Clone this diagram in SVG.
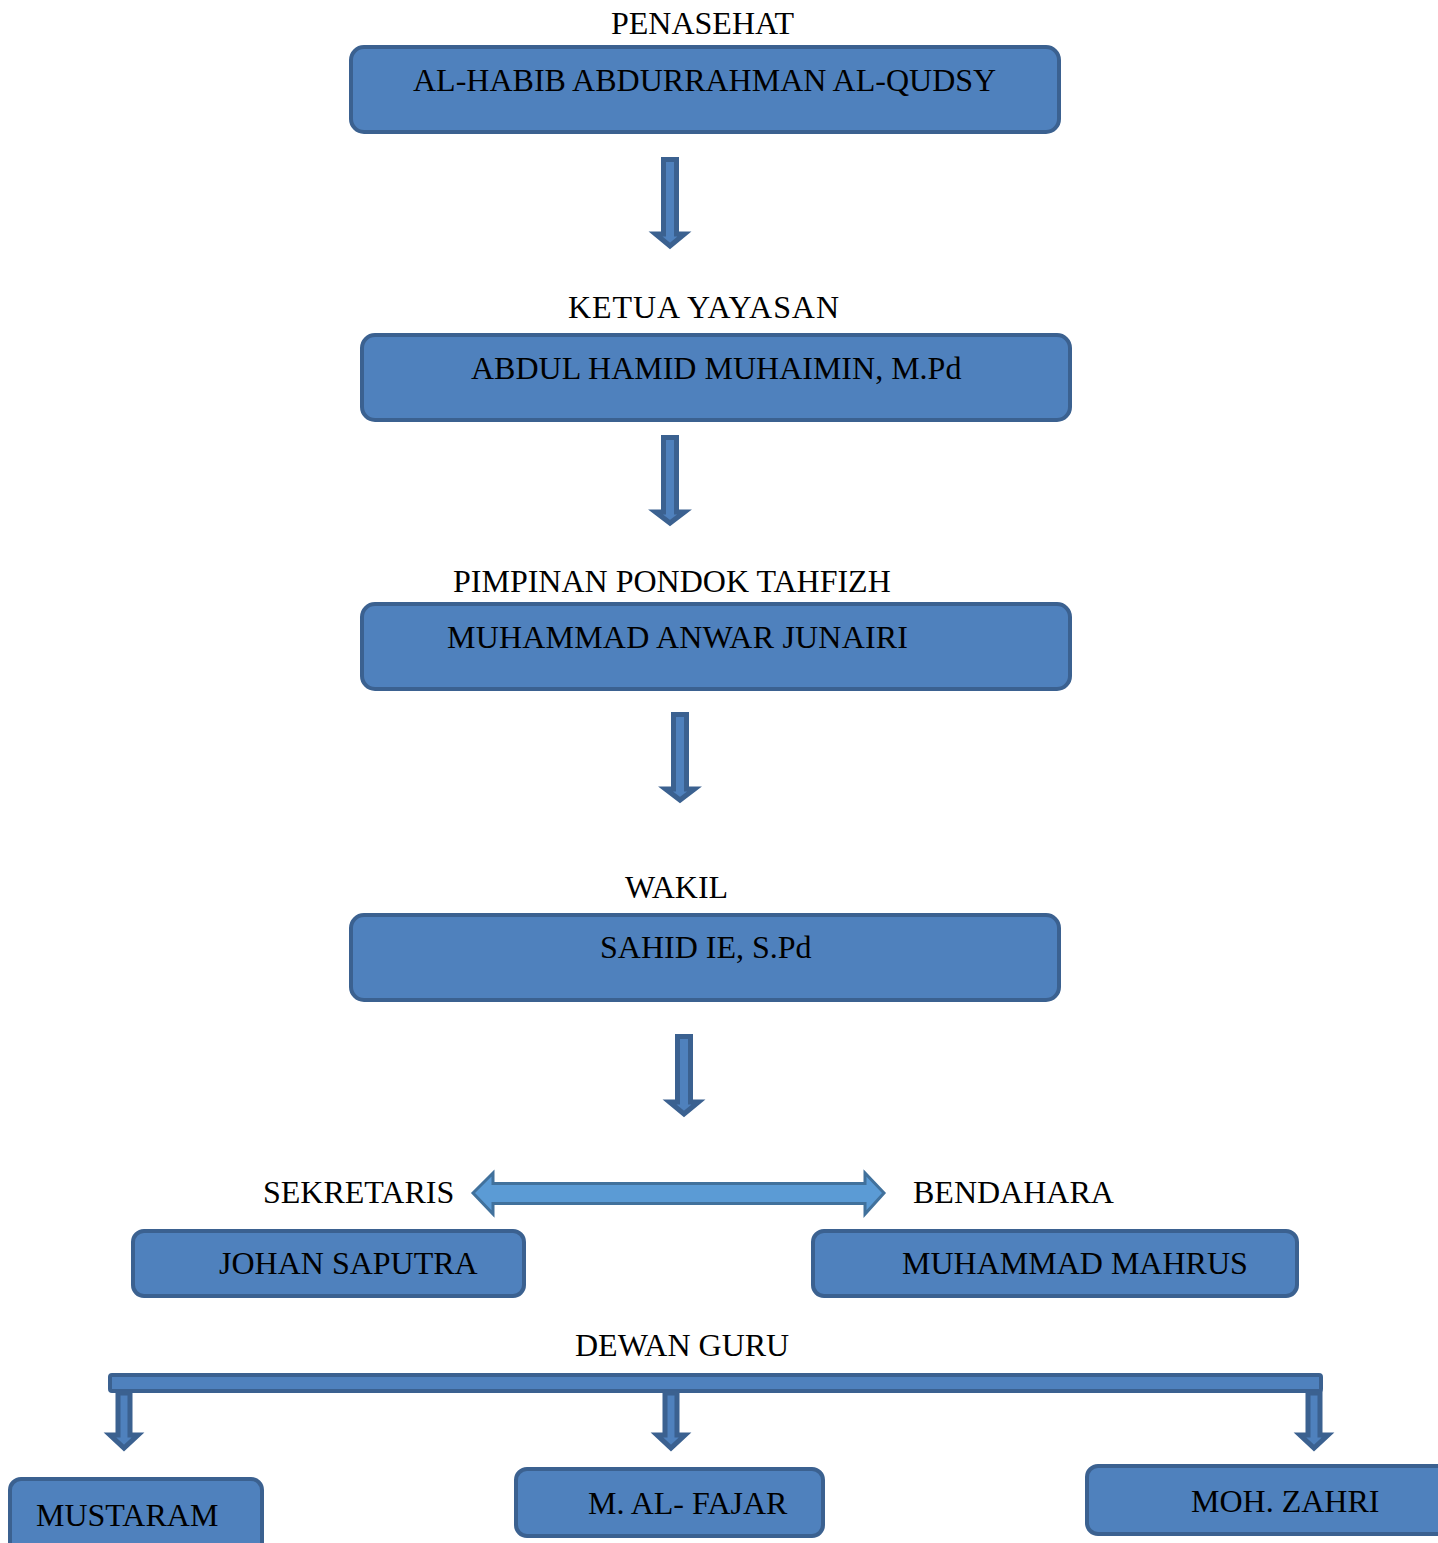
<svg xmlns="http://www.w3.org/2000/svg" width="1438" height="1543" viewBox="0 0 1438 1543">
<style>
.box{fill:#4f81bd;stroke:#3b6190;stroke-width:4}
.arr{fill:#4f81bd;stroke:#3b6190;stroke-width:5;stroke-linejoin:miter}
.dbl{fill:#5b9bd5;stroke:#41719c;stroke-width:3}
text{font-family:"Liberation Serif","Times New Roman",serif;font-size:32px;fill:#000}
</style>
<rect width="1438" height="1543" fill="#fff"/>
<g id="connectors">
<path class="arr" d="M663.5 159.5H676.5V234H684.5L670 246L655.5 234H663.5Z"/>
<path class="arr" d="M663.5 437.5H676.5V512H684.5L670 523L655.5 512H663.5Z"/>
<path class="arr" d="M673.5 714.5H686.5V789H694.5L680 800L665.5 789H673.5Z"/>
<path class="arr" d="M677.5 1036.5H690.5V1102H698.5L684 1114L669.5 1102H677.5Z"/>
<path class="dbl" d="M473 1193L493 1173V1183.5H865V1173L884 1193L865 1214V1203.5H493V1214Z"/>
<rect class="box" x="110" y="1375" width="1211" height="16" rx="2"/>
<path class="arr" d="M118 1393H130V1435H138L124 1448L110 1435H118Z"/>
<path class="arr" d="M665 1393H677V1435H685L671 1448L657 1435H665Z"/>
<path class="arr" d="M1308 1393H1320V1435H1328L1314 1448L1300 1435H1308Z"/>
</g>
<g id="penasehat">
<text x="611" y="34">PENASEHAT</text>
<rect class="box" x="351" y="47" width="708" height="85" rx="13"/>
<text x="413" y="91">AL-HABIB ABDURRAHMAN AL-QUDSY</text>
</g>
<g id="ketua">
<text x="568" y="318" textLength="271">KETUA YAYASAN</text>
<rect class="box" x="362" y="335" width="708" height="85" rx="13"/>
<text x="471" y="379">ABDUL HAMID MUHAIMIN, M.Pd</text>
</g>
<g id="pimpinan">
<text x="453" y="592">PIMPINAN PONDOK TAHFIZH</text>
<rect class="box" x="362" y="604" width="708" height="85" rx="13"/>
<text x="447" y="648" textLength="461">MUHAMMAD ANWAR JUNAIRI</text>
</g>
<g id="wakil">
<text x="625" y="898">WAKIL</text>
<rect class="box" x="351" y="915" width="708" height="85" rx="13"/>
<text x="600" y="958">SAHID IE, S.Pd</text>
</g>
<g id="sekretaris">
<text x="263" y="1203">SEKRETARIS</text>
<rect class="box" x="133" y="1231" width="391" height="65" rx="11"/>
<text x="219" y="1274">JOHAN SAPUTRA</text>
</g>
<g id="bendahara">
<text x="913" y="1203">BENDAHARA</text>
<rect class="box" x="813" y="1231" width="484" height="65" rx="11"/>
<text x="902" y="1274">MUHAMMAD MAHRUS</text>
</g>
<g id="dewan-guru">
<text x="575" y="1356">DEWAN GURU</text>
</g>
<g id="mustaram">
<rect class="box" x="10" y="1479" width="252" height="80" rx="11"/>
<text x="36" y="1526">MUSTARAM</text>
</g>
<g id="fajar">
<rect class="box" x="516" y="1469" width="307" height="67" rx="11"/>
<text x="588" y="1514">M. AL- FAJAR</text>
</g>
<g id="zahri">
<rect class="box" x="1087" y="1466" width="362" height="68" rx="11"/>
<text x="1191" y="1512">MOH. ZAHRI</text>
</g>
</svg>
